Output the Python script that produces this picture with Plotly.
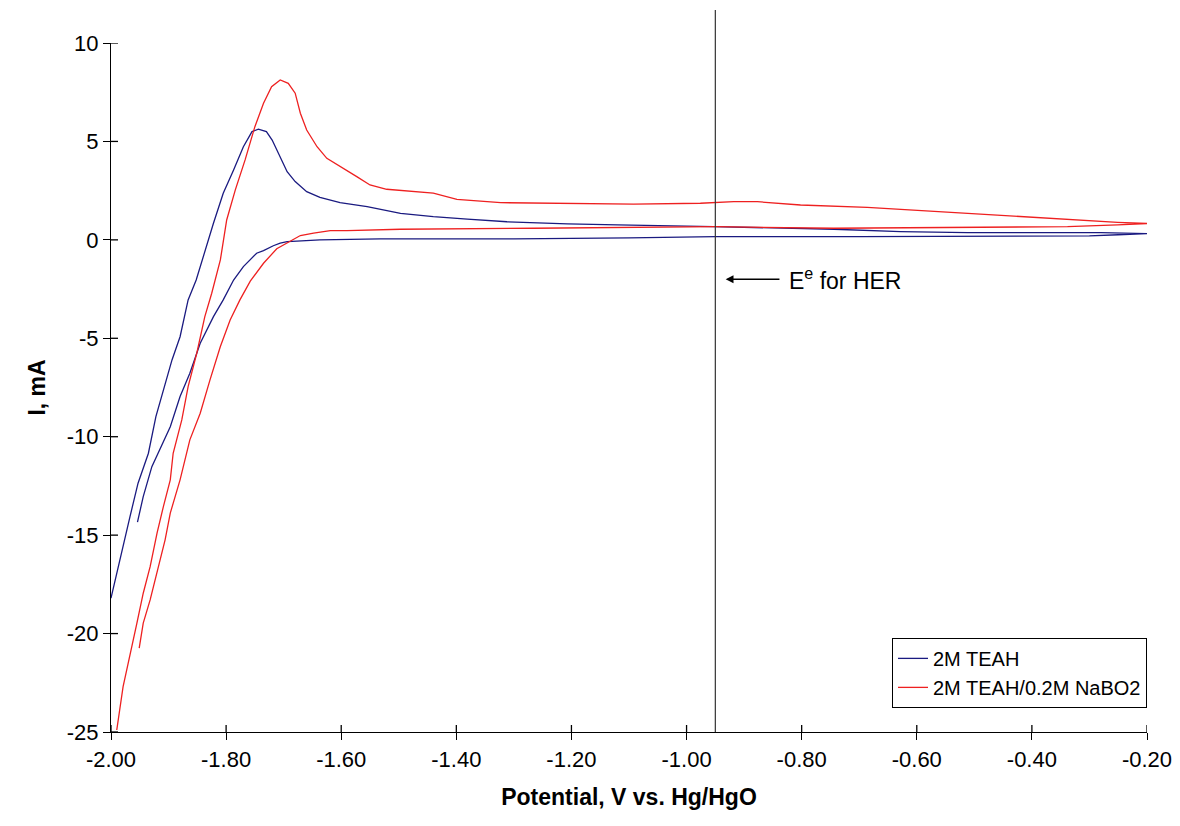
import plotly.graph_objects as go

# ---- data ----
teah_fwd_x = [-1.954, -1.944, -1.929, -1.915, -1.897, -1.880, -1.863, -1.845, -1.822, -1.805,
              -1.787, -1.770, -1.747, -1.735, -1.718, -1.706, -1.694, -1.677, -1.637, -1.532,
              -1.40, -1.30, -1.10, -0.95, -0.70, -0.50, -0.30, -0.25, -0.20]
teah_fwd_y = [-14.34, -13.04, -11.52, -10.67, -9.49, -7.96, -6.78, -5.25, -3.90, -3.05,
              -2.04, -1.36, -0.68, -0.55, -0.30, -0.17, -0.09, -0.06, 0.0, 0.05,
              0.05, 0.05, 0.10, 0.16, 0.16, 0.18, 0.20, 0.26, 0.32]
teah_rev_x = [-0.20, -0.28, -0.512, -0.628, -0.744, -0.953, -1.034, -1.120, -1.207, -1.265,
              -1.312, -1.381, -1.440, -1.497, -1.555, -1.602, -1.637, -1.660, -1.680, -1.694,
              -1.709, -1.720, -1.730, -1.744, -1.755, -1.770, -1.787, -1.805, -1.822, -1.842,
              -1.852, -1.866, -1.880, -1.894, -1.909, -1.922, -1.935, -1.953, -1.967, -1.979,
              -1.990, -2.000]
teah_rev_y = [0.32, 0.37, 0.37, 0.42, 0.54, 0.67, 0.70, 0.76, 0.81, 0.87,
              0.92, 1.05, 1.18, 1.35, 1.69, 1.89, 2.16, 2.45, 2.96, 3.46,
              4.40, 5.07, 5.50, 5.62, 5.50, 4.73, 3.55, 2.37, 0.84, -1.02,
              -2.04, -3.05, -4.92, -6.10, -7.62, -8.98, -10.84, -12.36, -14.06, -15.6,
              -16.9, -18.2]

nabo_fwd_x = [-1.951, -1.944, -1.932, -1.920, -1.906, -1.897, -1.880, -1.863, -1.845, -1.828,
              -1.810, -1.793, -1.776, -1.758, -1.735, -1.712, -1.689, -1.671, -1.648, -1.619,
              -1.590, -1.497, -1.265, -1.092, -0.950, -0.744, -0.512, -0.338, -0.251, -0.200]
nabo_fwd_y = [-20.74, -19.47, -18.29, -16.93, -15.24, -13.88, -12.19, -10.16, -8.81, -7.11,
              -5.42, -4.07, -3.05, -2.10, -1.19, -0.45, -0.05, 0.22, 0.34, 0.47,
              0.47, 0.54, 0.59, 0.64, 0.67, 0.59, 0.64, 0.67, 0.76, 0.83]
nabo_rev_x = [-0.20, -0.251, -0.338, -0.454, -0.570, -0.686, -0.802, -0.877, -0.918, -0.976,
              -1.092, -1.207, -1.323, -1.399, -1.440, -1.521, -1.550, -1.573, -1.596, -1.625,
              -1.642, -1.660, -1.671, -1.680, -1.692, -1.706, -1.721, -1.735, -1.750, -1.767,
              -1.784, -1.799, -1.810, -1.825, -1.837, -1.851, -1.866, -1.877, -1.892, -1.897,
              -1.909, -1.920, -1.932, -1.944, -1.955, -1.967, -1.979, -1.990]
nabo_rev_y = [0.83, 0.89, 1.04, 1.26, 1.43, 1.65, 1.77, 1.94, 1.94, 1.86,
              1.82, 1.86, 1.89, 2.06, 2.37, 2.57, 2.79, 3.21, 3.64, 4.14,
              4.73, 5.58, 6.43, 7.45, 7.95, 8.12, 7.78, 6.94, 5.75, 4.06,
              2.54, 1.01, -1.02, -2.71, -3.90, -5.76, -7.46, -9.15, -10.84, -12.19,
              -13.55, -14.9, -16.6, -17.95, -19.47, -21.17, -22.7, -24.9]

series_names = ["2M TEAH", "2M TEAH/0.2M NaBO2"]
her_potential = -0.95
her_label_y = -2.0
her_label = "E<sup>e</sup> for HER"

x_tickvals = [-2.0, -1.8, -1.6, -1.4, -1.2, -1.0, -0.8, -0.6, -0.4, -0.2]
x_ticktext = ["-2.00", "-1.80", "-1.60", "-1.40", "-1.20", "-1.00", "-0.80", "-0.60", "-0.40", "-0.20"]
y_tickvals = [10, 5, 0, -5, -10, -15, -20, -25]
y_ticktext = ["10", "5", "0", "-5", "-10", "-15", "-20", "-25"]

x_range = [-2.0, -0.2]
y_range = [-25, 10]

FONT = "Liberation Sans, Arial, sans-serif"

fig = go.Figure()
fig.add_trace(go.Scatter(x=teah_fwd_x + teah_rev_x, y=teah_fwd_y + teah_rev_y,
                         mode="lines", name=series_names[0],
                         line=dict(color="#1a1a80", width=1.3)))
fig.add_trace(go.Scatter(x=nabo_fwd_x + nabo_rev_x, y=nabo_fwd_y + nabo_rev_y,
                         mode="lines", name=series_names[1],
                         line=dict(color="#ee2020", width=1.3)))

# inner half of the crossing tick marks (pixel-sized, anchored at the axes)
for v in x_tickvals:
    fig.add_shape(type="line", xref="x", yref="paper", ysizemode="pixel", yanchor=0,
                  x0=v, x1=v, y0=0, y1=7, line=dict(color="black", width=1.3))
for v in y_tickvals:
    fig.add_shape(type="line", xref="paper", yref="y", xsizemode="pixel", xanchor=0,
                  x0=0, x1=7, y0=v, y1=v, line=dict(color="black", width=1.3))

# E for HER vertical line (extends above plot)
fig.add_shape(type="line", xref="x", yref="paper", x0=her_potential, x1=her_potential,
              y0=0, y1=1.048, line=dict(color="#333333", width=1.2))

# arrow
fig.add_annotation(x=her_potential + 0.018, y=her_label_y, ax=-0.836, ay=her_label_y,
                   xref="x", yref="y", axref="x", ayref="y", text="",
                   showarrow=True, arrowhead=2, arrowsize=1.2, arrowwidth=1.3,
                   arrowcolor="black")
fig.add_annotation(x=-0.826, y=her_label_y, xref="x", yref="y", text=her_label,
                   showarrow=False, xanchor="left", yanchor="middle",
                   font=dict(family=FONT, size=23, color="black"))

axis_common = dict(showgrid=False, zeroline=False, automargin=False)
fig.update_layout(
    width=1180, height=826,
    margin=dict(l=111, r=33, t=43, b=94),
    paper_bgcolor="white", plot_bgcolor="white",
    font=dict(family=FONT, size=22, color="black"),
    xaxis=dict(range=x_range, tickvals=x_tickvals, ticktext=x_ticktext,
               ticks="outside", ticklen=7, tickwidth=1.3, tickcolor="black",
               showline=True, linecolor="black", linewidth=1.3,
               title=dict(text="<b>Potential, V vs. Hg/HgO</b>", font=dict(size=23), standoff=18),
               **axis_common),
    yaxis=dict(range=y_range, tickvals=y_tickvals, ticktext=y_ticktext,
               ticks="outside", ticklen=7, tickwidth=1.3,
               tickcolor="black", showline=True, linecolor="black", linewidth=1.3,
               title=dict(text="<b>I, mA</b>", font=dict(size=23), standoff=14),
               **axis_common),
    legend=dict(x=1.0, y=0.035, xanchor="right", yanchor="bottom",
                bgcolor="white", bordercolor="black", borderwidth=1,
                font=dict(family=FONT, size=20), tracegroupgap=0,
                itemwidth=30),
    showlegend=True,
)

fig.write_html("out.html")
